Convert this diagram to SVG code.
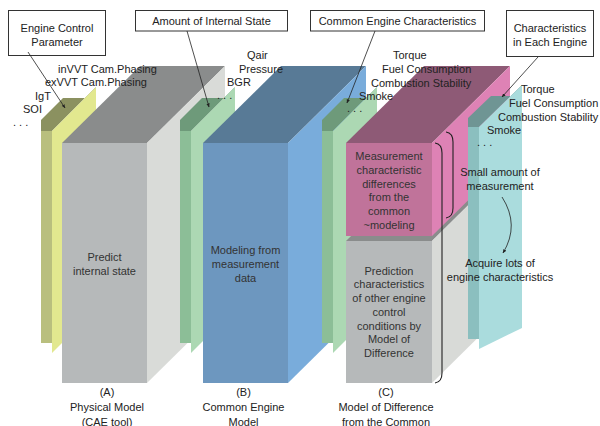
<svg xmlns="http://www.w3.org/2000/svg" width="600" height="426" viewBox="0 0 600 426">
<defs>
<marker id="ah" viewBox="0 0 10 10" refX="9" refY="5" markerWidth="5" markerHeight="5" orient="auto"><path d="M0,1 L10,5 L0,9 z" fill="#222"/></marker>
<style>
text{font-family:"Liberation Sans",Arial,sans-serif;font-size:11px;fill:#222}
.c{text-anchor:middle}
.in{fill:#333}
.box{fill:#fff;stroke:#333;stroke-width:1}
.ln{stroke:#222;stroke-width:0.8;fill:none}
.br{stroke:#222;stroke-width:1.1;fill:none}
</style>
</defs>
<rect width="600" height="426" fill="#fff"/>

<g id="sheetsA">
<rect x="41" y="120" width="11" height="223" fill="#b9bf7e"/>
<polygon points="41,120 63,98 91,98 96,87 52,131 41,131" fill="#8b9160"/>
<polygon points="52,131 96,87 96,309 52,353" fill="#e2e88f"/>
</g>
<g id="blockA">
<polygon points="62,143 147,143 225,66 140,66" fill="#8a8c8c"/>
<polygon points="147,143 225,66 225,306 147,383" fill="#d9dbd8"/>
<rect x="62" y="143" width="85" height="240" fill="#b6b9ba"/>
<text class="c in" x="104.5" y="261">Predict</text>
<text class="c in" x="104.5" y="275">internal state</text>
</g>

<g id="sheetsB">
<rect x="180" y="120" width="11" height="223" fill="#8cbe97"/>
<polygon points="180,120 202,98 230,98 235,87 191,131 180,131" fill="#6e9a7a"/>
<polygon points="191,131 235,87 235,309 191,353" fill="#acd8b3"/>
</g>
<g id="blockB">
<polygon points="203,143 288,143 366,66 281,66" fill="#587a96"/>
<polygon points="288,143 366,66 366,306 288,383" fill="#79acdb"/>
<rect x="203" y="143" width="85" height="240" fill="#6d97bf"/>
<text class="c in" x="245.5" y="254">Modeling from</text>
<text class="c in" x="245.5" y="268">measurement</text>
<text class="c in" x="245.5" y="282">data</text>
</g>

<g id="sheetsC">
<rect x="322" y="120" width="11" height="223" fill="#8cbe97"/>
<polygon points="322,120 344,98 372,98 377,87 333,131 322,131" fill="#6e9a7a"/>
<polygon points="333,131 377,87 377,309 333,353" fill="#acd8b3"/>
</g>
<g id="blockC">
<polygon points="346,241 432,241 510,164 424,164" fill="#8a8c8c"/>
<polygon points="432,241 510,164 510,306 432,383" fill="#d8dad7"/>
<rect x="346" y="241" width="86" height="142" fill="#b6b9ba"/>
<polygon points="346,143 432,143 510,66 424,66" fill="#8e5a76"/>
<polygon points="432,143 510,66 510,159 432,236" fill="#de82b5"/>
<rect x="346" y="143" width="86" height="93" fill="#c0739a"/>
<text class="c in" x="389" y="160">Measurement</text>
<text class="c in" x="389" y="174">characteristic</text>
<text class="c in" x="389" y="188">differences</text>
<text class="c in" x="389" y="201">from the</text>
<text class="c in" x="389" y="215">common</text>
<text class="c in" x="389" y="229">~modeling</text>
<text class="c in" x="389" y="275">Prediction</text>
<text class="c in" x="389" y="288">characteristics</text>
<text class="c in" x="389" y="302">of other engine</text>
<text class="c in" x="389" y="316">control</text>
<text class="c in" x="389" y="330">conditions by</text>
<text class="c in" x="389" y="343">Model of</text>
<text class="c in" x="389" y="357">Difference</text>
</g>

<g id="sheetsD">
<rect x="468" y="118" width="11" height="221" fill="#8bbfbf"/>
<polygon points="468,118 491,96 518,96 522,85 479,127 468,127" fill="#6f9594"/>
<polygon points="479,127 522,85 522,328 479,349" fill="#aadcdd"/>
</g>

<g id="braces">
<path class="br" d="M446,132 Q453,133 453,142 L453,208 Q453,217 446,218"/>
<path class="br" d="M435,143 Q442,144 442,153 L442,373 Q442,382 435,383"/>
</g>

<g id="callouts">
<g id="callout1">
<rect class="box" x="8.5" y="10.5" width="97" height="45"/>
<text class="c" x="57" y="32">Engine Control</text>
<text class="c" x="57" y="46">Parameter</text>
</g>
<g id="callout2">
<rect class="box" x="135.5" y="10.5" width="152" height="20.5"/>
<text class="c" x="211.5" y="25">Amount of Internal State</text>
</g>
<g id="callout3">
<rect class="box" x="310.5" y="10.5" width="174" height="20.5"/>
<text class="c" x="397.5" y="25">Common Engine Characteristics</text>
</g>
<g id="callout4">
<rect class="box" x="506.5" y="10.5" width="87" height="46"/>
<text class="c" x="550" y="32">Characteristics</text>
<text class="c" x="550" y="46">in Each Engine</text>
</g>
</g>

<g id="connectors">
<line class="ln" x1="28" y1="52" x2="65" y2="108" marker-end="url(#ah)"/>
<line class="ln" x1="187" y1="31" x2="209" y2="107" marker-end="url(#ah)"/>
<line class="ln" x1="375" y1="31" x2="347" y2="103" marker-end="url(#ah)"/>
<line class="ln" x1="538" y1="57" x2="502" y2="97" marker-end="url(#ah)"/>
<path class="ln" d="M502,197 Q520,225 503,253" marker-end="url(#ah)"/>
</g>

<g id="labels">
<text x="58" y="72.5">inVVT Cam.Phasing</text>
<text x="45" y="86">exVVT Cam.Phasing</text>
<text x="35" y="100">IgT</text>
<text x="23" y="113">SOI</text>
<text x="13" y="126">. . .</text>
<text x="247" y="59">Qair</text>
<text x="239" y="72.5">Pressure</text>
<text x="227" y="86">BGR</text>
<text x="217" y="99">. . .</text>
<text x="393" y="59">Torque</text>
<text x="382" y="73">Fuel Consumption</text>
<text x="371" y="87">Combustion Stability</text>
<text x="359" y="100">Smoke</text>
<text x="347" y="112">. . .</text>
<text x="521" y="93">Torque</text>
<text x="509" y="107">Fuel Consumption</text>
<text x="498" y="121">Combustion Stability</text>
<text x="487" y="134">Smoke</text>
<text x="477" y="146">. . .</text>
<text class="c" x="500" y="176">Small amount of</text>
<text class="c" x="500" y="190">measurement</text>
<text class="c" x="500" y="267">Acquire lots of</text>
<text class="c" x="500" y="281">engine characteristics</text>
<text class="c" x="107" y="396">(A)</text>
<text class="c" x="107" y="411">Physical Model</text>
<text class="c" x="107" y="426">(CAE tool)</text>
<text class="c" x="243.5" y="396">(B)</text>
<text class="c" x="243.5" y="411">Common Engine</text>
<text class="c" x="243.5" y="426">Model</text>
<text class="c" x="386" y="396">(C)</text>
<text class="c" x="386" y="411">Model of Difference</text>
<text class="c" x="386" y="426">from the Common</text>
</g>
</svg>
